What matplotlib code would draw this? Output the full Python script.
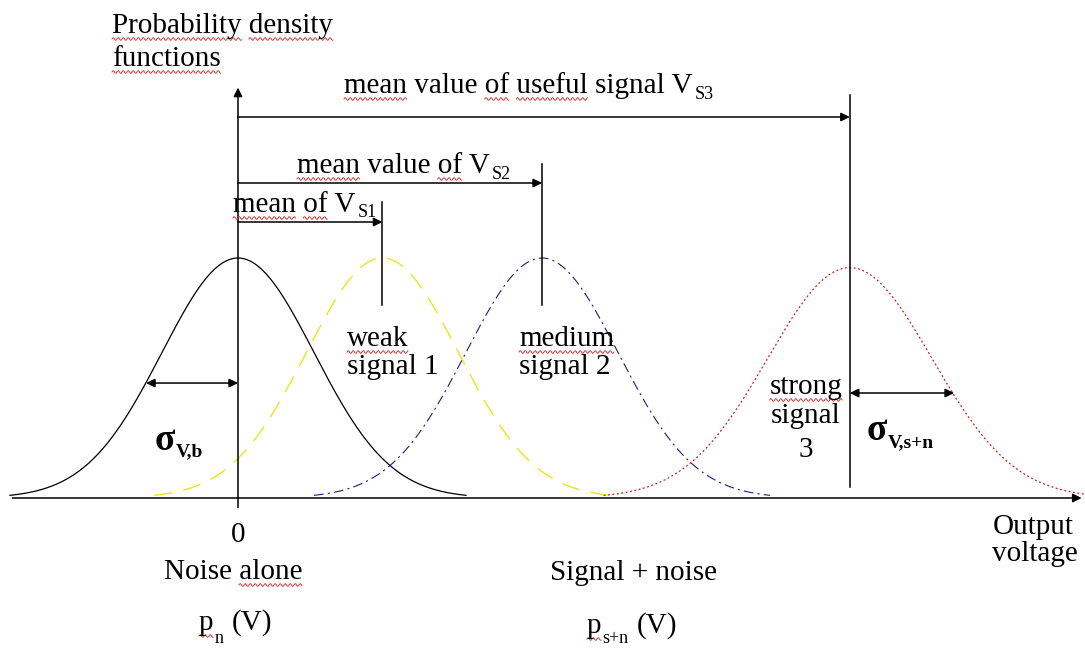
import numpy as np
import matplotlib
matplotlib.use("Agg")
import matplotlib.pyplot as plt
from matplotlib.lines import Line2D
from matplotlib.transforms import IdentityTransform

plt.rcParams["font.family"] = ["Liberation Serif", "DejaVu Serif"]
plt.rcParams["lines.scale_dashes"] = False

# ---- distributions (voltage in units of the noise sigma, density peak = 1) ----
names = ["noise", "weak", "medium", "strong"]
means = [0.0, 1.9, 4.0, 8.05]
sigmas = [1.0, 1.0, 1.0, 1.08]
peaks = [1.0, 1.0, 1.0, 0.96]
colors = ["black", "#EDE41C", "#1F1F7A", "#C82424"]
styles = ["-", (0, (13, 8)), (0, (7, 3, 1.5, 3)), (0, (1.4, 1.8))]
widths = [0.9, 1.0, 0.8, 0.9]

W, H = 1085, 650
fig = plt.figure(figsize=(W / 100, H / 100), dpi=100)
ax = fig.add_axes([0, 0, 1, 1])
ax.set_xlim(-238 / 76, (W - 238) / 76)
ax.set_ylim(-(H - 498) / 240, 498 / 240)
ax.axis("off")

for m, s, p, c, ls, lw in zip(means, sigmas, peaks, colors, styles, widths):
    v = np.linspace(m - 3 * s, m + 3 * s, 400)
    ax.plot(v, p * np.exp(-0.5 * ((v - m) / s) ** 2), color=c, ls=ls, lw=lw)

arrow = dict(arrowstyle="-|>", color="black", lw=1.1, mutation_scale=13,
             shrinkA=0, shrinkB=0)
both = dict(arrow, arrowstyle="<|-|>")

# axes with arrow heads
ax.annotate("", xy=(11.1, 0), xytext=(-2.97, 0), arrowprops=arrow)
ax.annotate("", xy=(0, 1.71), xytext=(0, -0.04), arrowprops=arrow)

# mean markers and their arrows
mark_top = [1.233, 1.392, 1.68]
mark_bot = [0.804, 0.804, 0.045]
arrow_y = [1.15, 1.3125, 1.5875]
for m, t, b, ay in zip(means[1:], mark_top, mark_bot, arrow_y):
    ax.plot([m, m], [b, t], color="black", lw=1.1)
    ax.annotate("", xy=(m, ay), xytext=(0, ay), arrowprops=arrow)

# sigma arrows
ax.annotate("", xy=(-1.21 * sigmas[0], 0.479), xytext=(means[0], 0.479),
            arrowprops=both)
ax.annotate("", xy=(means[3] + 1.27 * sigmas[3], 0.4375),
            xytext=(means[3], 0.4375), arrowprops=both)

renderer = fig.canvas.get_renderer()
FS = 21
SUB = 13


def squiggle(x0, x1, yb):
    xs = np.arange(x0, x1, 0.5)
    ys = yb - 6 + 1.3 * np.sin(2 * np.pi * (xs - x0) / 5.0)
    fig.add_artist(Line2D(xs, ys, color="#D23A3A", lw=0.7,
                          transform=IdentityTransform()))


def rich(x, y, parts, ha="left"):
    """Place a run of text pieces on one baseline.

    parts: (text, size, drop_px, gap_px, weight, wavy_words);
    a positive drop lowers the piece below the baseline.
    """
    made = []
    cursor = 0.0
    for text, size, drop, gap, weight, wavy in parts:
        cursor += gap
        t = fig.text(0, 0, text, fontsize=size, fontweight=weight,
                     va="baseline", ha="left", transform=IdentityTransform())
        w = t.get_window_extent(renderer).width
        made.append((t, cursor, drop, text, wavy))
        cursor += w
    left = x - (cursor / 2 if ha == "center" else 0)
    yb = H - y
    for t, off, drop, text, wavy in made:
        t.set_position((left + off, yb - drop))
        fp = t.get_fontproperties()
        pos = 0
        for word in wavy:
            i = text.index(word, pos)
            pre = renderer.get_text_width_height_descent(text[:i], fp, False)[0] if i else 0
            end = renderer.get_text_width_height_descent(text[:i + len(word)], fp, False)[0]
            squiggle(left + off + pre, left + off + end, yb - drop)
            pos = i + len(word)


def label(x, y, s, ha="left", wavy=(), size=FS, weight="normal"):
    rich(x, y, [(s, size, 0, 0, weight, wavy)], ha=ha)


label(112, 33, "Probability density", wavy=("Probability", "density"))
label(112, 66, "functions", wavy=("functions",))
rich(344, 93, [("mean value of useful signal V", FS, 0, 0, "normal",
                ("mean", "of", "useful")),
               ("S3", SUB, 6, 2, "normal", ())])
rich(297, 173, [("mean value of V", FS, 0, 0, "normal", ("mean", "of")),
                ("S2", SUB, 6, 2, "normal", ())])
rich(233, 212, [("mean of V", FS, 0, 0, "normal", ("mean", "of")),
                ("S1", SUB, 5, 2, "normal", ())])

label(347, 346, "weak", wavy=("weak",))
label(347, 374, "signal 1")
label(519, 346, "medium", wavy=("medium",))
label(519, 374, "signal 2")
label(806, 394, "strong", ha="center", wavy=("strong",))
label(806, 423, "signal", ha="center")
label(806, 457, "3", ha="center")

rich(155, 450, [("\u03c3", 27, 0, 0, "bold", ()),
                ("V,b", 14, 6, 0, "bold", ())])
rich(867, 440, [("\u03c3", 27, 0, 0, "bold", ()),
                ("V,s+n", 14, 7, 0, "bold", ())])

label(238, 542, "0", ha="center")
label(233, 579, "Noise alone", ha="center", wavy=("alone",))
label(550, 580, "Signal + noise")
rich(199, 630, [("p", FS, 0, 0, "normal", ("p",)),
                ("n", SUB, 13, 1, "normal", ()),
                ("(V)", FS, 0, 8, "normal", ())])
rich(587, 633, [("p", FS, 0, 0, "normal", ("p",)),
                ("s+n", SUB, 10, 1, "normal", ()),
                ("(V)", FS, 0, 8, "normal", ())])
label(993, 534, "Output")
label(992, 561, "voltage")

fig.savefig("out.png", dpi=100)
